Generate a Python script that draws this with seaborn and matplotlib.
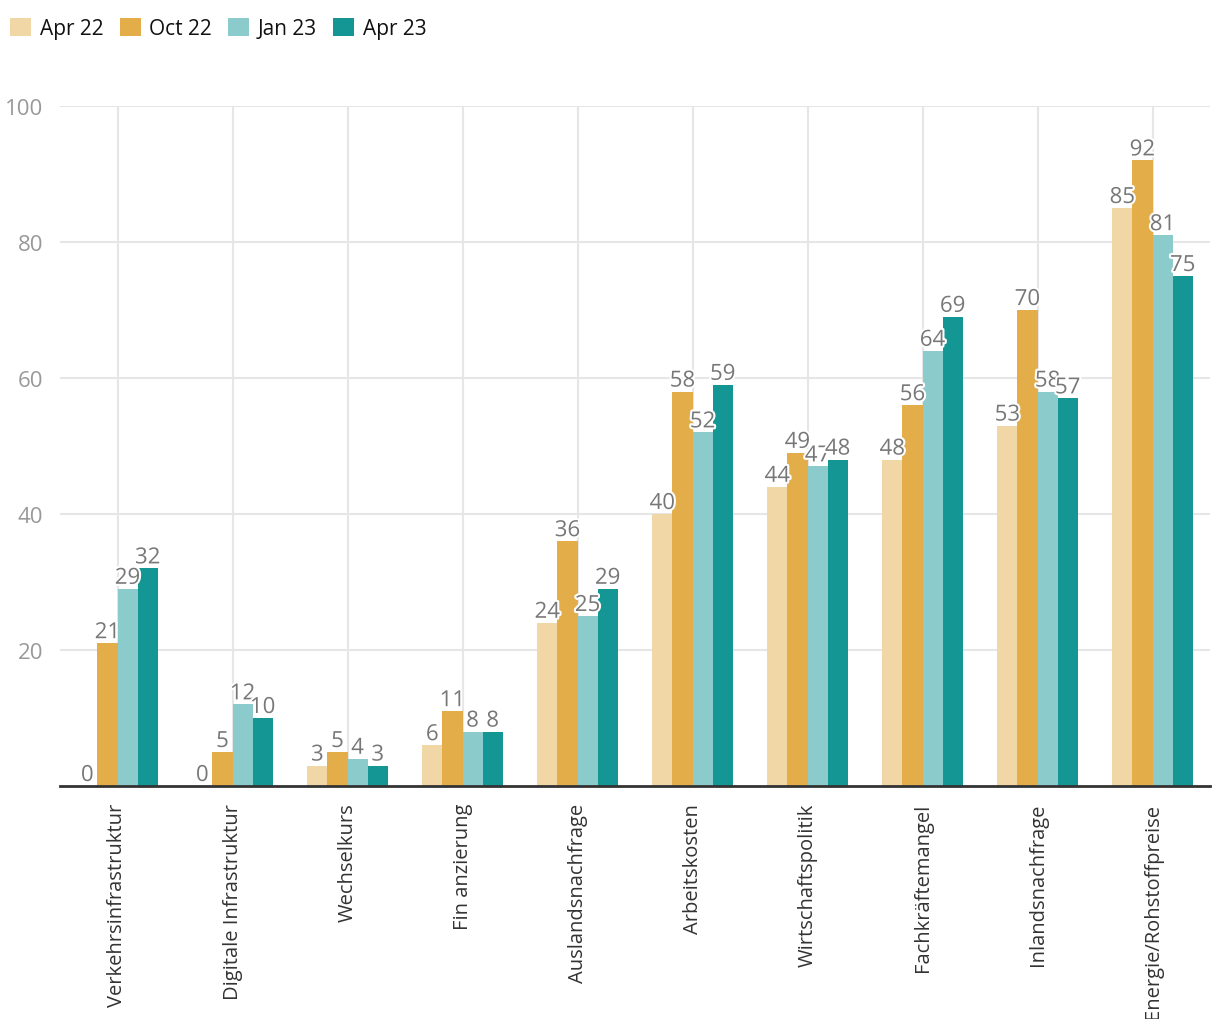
import matplotlib
matplotlib.use("Agg")
import matplotlib.pyplot as plt
import matplotlib.patheffects as pe
import seaborn as sns
import pandas as pd

categories = ["Verkehrsinfrastruktur", "Digitale Infrastruktur", "Wechselkurs", "Fin anzierung",
              "Auslandsnachfrage", "Arbeitskosten", "Wirtschaftspolitik", "Fachkräftemangel",
              "Inlandsnachfrage", "Energie/Rohstoffpreise"]
series = ["Apr 22", "Oct 22", "Jan 23", "Apr 23"]
apr22 = [0, 0, 3, 6, 24, 40, 44, 48, 53, 85]
oct22 = [21, 5, 5, 11, 36, 58, 49, 56, 70, 92]
jan23 = [29, 12, 4, 8, 25, 52, 47, 64, 58, 81]
apr23 = [32, 10, 3, 8, 29, 59, 48, 69, 57, 75]
colors = ["#F2D7A6", "#E3AE4A", "#8CCBCB", "#149694"]
yticks = [20, 40, 60, 80, 100]

rows = []
for s, vals in zip(series, [apr22, oct22, jan23, apr23]):
    for c, v in zip(categories, vals):
        rows.append({"cat": c, "series": s, "value": v})
df = pd.DataFrame(rows)

sns.set_theme(style="white")
plt.rcParams["font.family"] = ["Open Sans", "DejaVu Sans"]

fig = plt.figure(figsize=(12.2, 10.2), dpi=100)
ax = fig.add_axes([60/1220, 1-787/1020, 1150/1220, 680/1020])

sns.barplot(data=df, x="cat", y="value", hue="series", order=categories, hue_order=series,
            palette=colors, width=0.7, saturation=1, ax=ax, legend=True, linewidth=0)

ax.set_ylim(0, 100)
ax.set_xlim(-0.5, len(categories) - 0.5)
ax.set_yticks(yticks)
ax.set_xlabel("")
ax.set_ylabel("")
ax.grid(True, axis="both", color="#e6e6e6", linewidth=1.5)
ax.set_axisbelow(True)
for side in ["top", "right", "left"]:
    ax.spines[side].set_visible(False)
ax.spines["bottom"].set_color("#333333")
ax.spines["bottom"].set_linewidth(2)
ax.tick_params(axis="y", length=0, labelsize=16, labelcolor="#999999", pad=12)
ax.tick_params(axis="x", length=0, labelsize=14.5, labelcolor="#333333", pad=12)
for lbl in ax.get_xticklabels():
    lbl.set_rotation(90)
    lbl.set_va("top")
    lbl.set_ha("center")

for cont in ax.containers:
    txts = ax.bar_label(cont, fmt="%g", color="#777777", fontsize=16, padding=0)
    for t in txts:
        t.set_path_effects([pe.withStroke(linewidth=3, foreground="white")])

leg = ax.get_legend()
handles, labels = ax.get_legend_handles_labels()
leg.remove()
fig.legend(handles, labels, loc="upper left", bbox_to_anchor=(0.0, 0.992), ncol=4, frameon=False,
           fontsize=15, handlelength=1.0, handleheight=1.0, handletextpad=0.4, columnspacing=0.8,
           borderaxespad=0.1, labelcolor="#111111")

fig.savefig("out.png", dpi=100)
